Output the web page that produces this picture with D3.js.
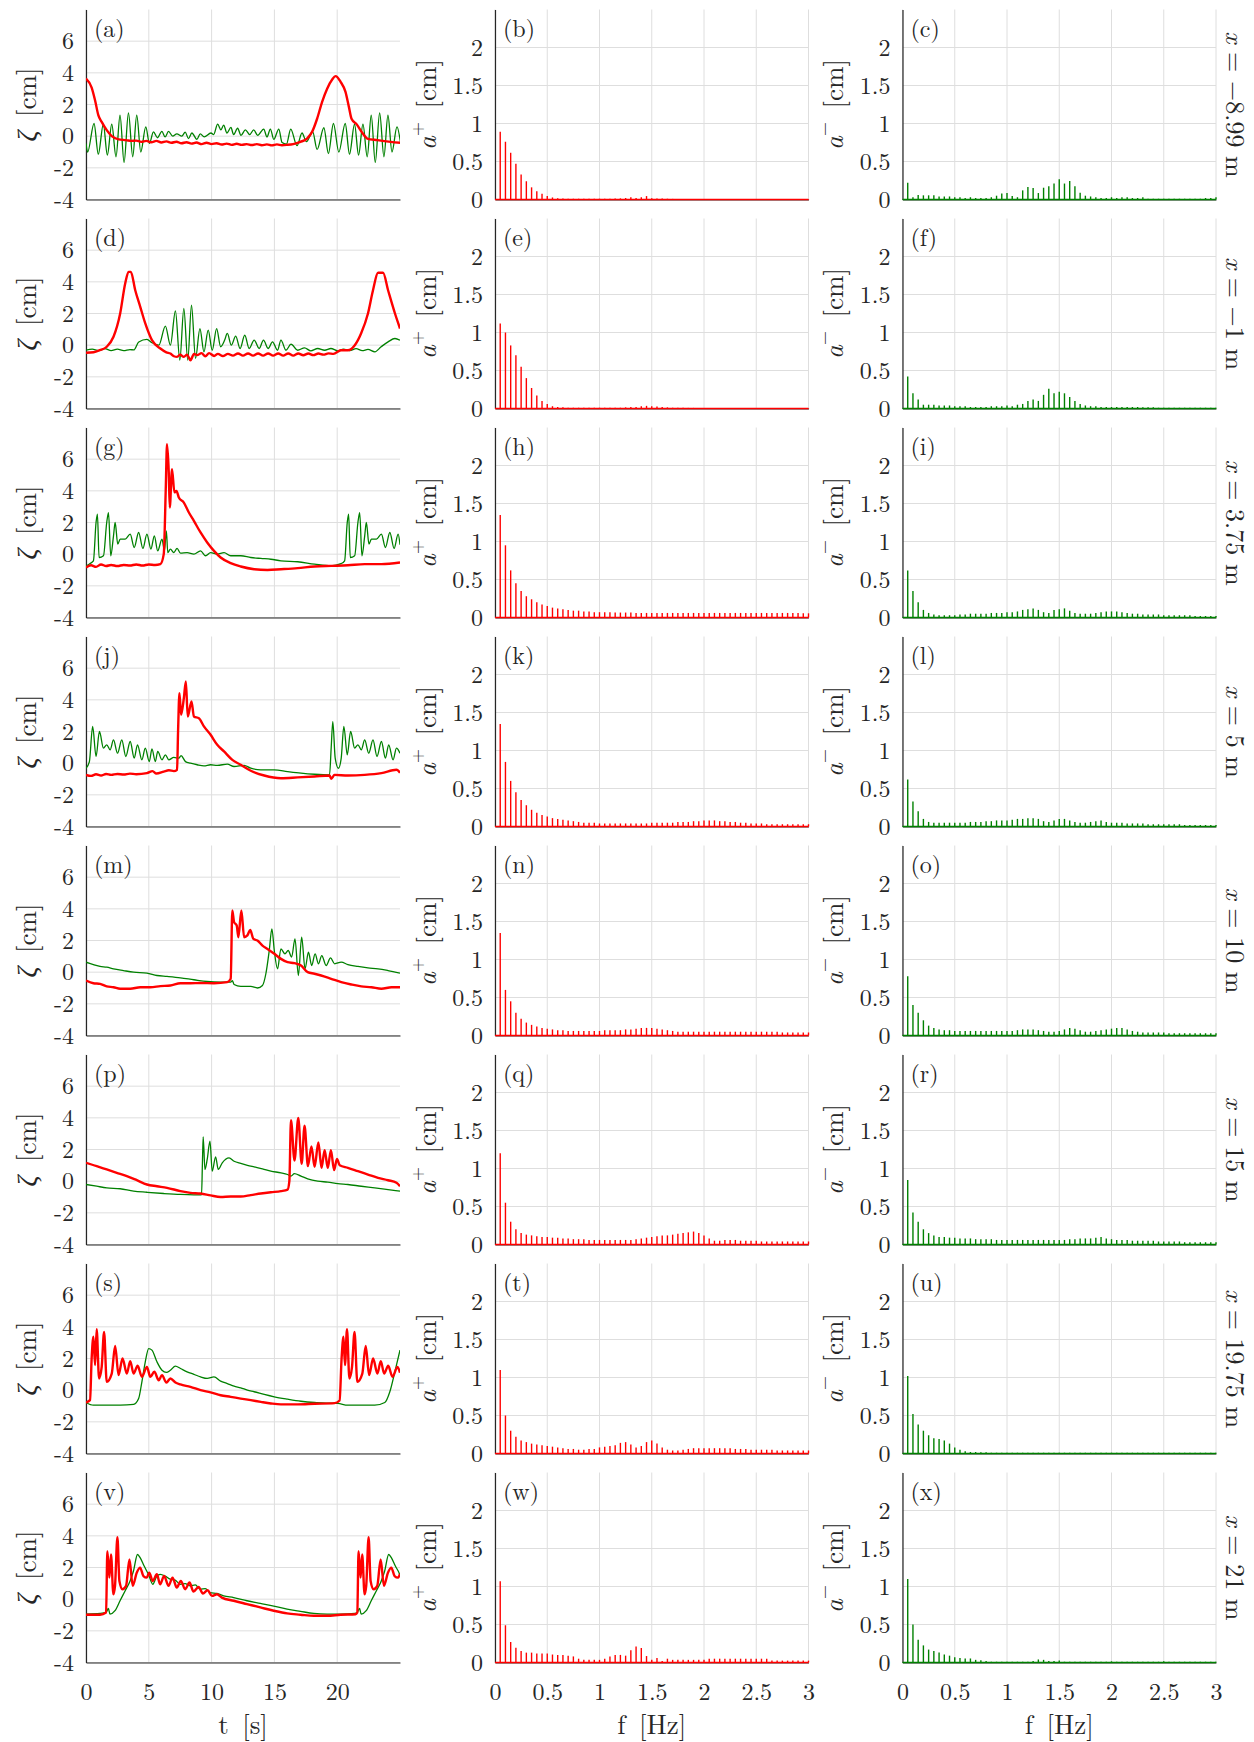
<!DOCTYPE html>
<html><head><meta charset="utf-8">
<script src="https://cdn.jsdelivr.net/npm/d3@7"></script>
<style>body{margin:0;background:#fff} svg text{font-family:'Latin Modern Roman','Liberation Serif',serif;}</style>
</head><body>
<script>
// ---------------- tick labels ----------------
const timeTicks = [0, 5, 10, 15, 20];
const zetaTicks = [-4, -2, 0, 2, 4, 6];
const freqTicks = [0, 0.5, 1, 1.5, 2, 2.5, 3];
const ampTicks = [0, 0.5, 1, 1.5, 2];
const positions = ["\u22128.99", "\u22121", "3.75", "5", "10", "15", "19.75", "21"];

// spectral frequencies [Hz]
const freqs = [0.05,0.1,0.15,0.2,0.25,0.3,0.35,0.4,0.45,0.5,0.55,0.6,0.65,0.7,0.75,0.8,0.85,0.9,0.95,1.0,
 1.05,1.1,1.15,1.2,1.25,1.3,1.35,1.4,1.45,1.5,1.55,1.6,1.65,1.7,1.75,1.8,1.85,1.9,1.95,2.0,
 2.05,2.1,2.15,2.2,2.25,2.3,2.35,2.4,2.45,2.5,2.55,2.6,2.65,2.7,2.75,2.8,2.85,2.9,2.95,3.0];

// ---------------- time series [t, zeta] ----------------
const zpA = [[0,3.64],[0.45,3.07],[0.72,2.27],[0.98,1.33],[1.25,0.9],[1.65,0.38],[2.05,0.0],[2.6,-0.2],[3.2,-0.25],[3.6,-0.3],[4.0,-0.28],[4.4,-0.36],[4.8,-0.3],[5.2,-0.38],[5.6,-0.3],[6.0,-0.4],[6.4,-0.33],[6.8,-0.42],[7.2,-0.35],[7.6,-0.45],[8,-0.38],[8.4,-0.47],[8.8,-0.4],[9.2,-0.5],[9.6,-0.42],[10,-0.5],[10.4,-0.45],[10.8,-0.53],[11.2,-0.47],[11.6,-0.55],[12,-0.48],[12.4,-0.55],[12.8,-0.5],[13.2,-0.56],[13.6,-0.5],[14,-0.57],[14.4,-0.52],[14.8,-0.58],[15.2,-0.52],[15.6,-0.57],[16,-0.55],[16.5,-0.5],[17.07,-0.36],[17.6,-0.15],[18.0,0.27],[18.4,1.1],[18.8,2.17],[19.2,3.0],[19.6,3.58],[19.87,3.79],[20.27,3.43],[20.66,2.8],[20.93,1.85],[21.14,1.1],[21.54,0.76],[22.0,0.21],[22.4,-0.15],[23.2,-0.25],[24.26,-0.36],[25.05,-0.42]];
const zmA = [[0,-0.46],[0.13,-1.0],[0.64,0.8],[0.98,-1.14],[1.38,0.76],[1.7,-1.2],[2.05,0.76],[2.39,-1.3],[2.71,1.33],[3.03,-1.66],[3.38,1.47],[3.72,-1.3],[4.04,1.33],[4.36,-1.0],[4.76,0.59],[5.05,-0.46],[5.37,0.27],[5.69,-0.1],[6.04,0.3],[6.3,-0.05],[6.57,0.3],[6.9,0.0],[7.23,0.15],[7.63,0.0],[7.9,0.25],[8.16,-0.15],[8.43,0.2],[8.83,-0.2],[9.1,0.15],[9.41,-0.05],[9.95,0.2],[10.16,0.1],[10.48,0.76],[10.74,0.4],[10.96,0.7],[11.22,0.2],[11.54,0.55],[11.75,0.1],[12.07,0.5],[12.34,0.05],[12.69,0.4],[13.03,0.1],[13.35,0.4],[13.67,0.05],[14.15,0.45],[14.41,-0.05],[14.68,0.45],[14.95,-0.2],[15.35,0.45],[15.61,-0.4],[15.96,-0.5],[16.3,0.45],[16.8,-0.6],[17.2,0.2],[17.55,-0.35],[18.05,0.27],[18.4,-0.84],[18.94,0.53],[19.3,-1.1],[19.7,0.8],[20.13,-1.0],[20.64,0.8],[20.98,-1.14],[21.38,0.76],[21.7,-1.2],[22.05,0.76],[22.39,-1.3],[22.71,1.33],[23.03,-1.66],[23.38,1.47],[23.72,-1.3],[24.04,1.33],[24.36,-1.0],[24.76,0.59],[25.05,-0.46]];

const zpD = [[0,-0.48],[0.6,-0.45],[1.1,-0.32],[1.65,-0.1],[2.19,0.53],[2.72,2.0],[3.12,3.9],[3.39,4.63],[3.57,4.63],[3.92,3.47],[4.32,2.42],[4.72,1.37],[5.25,0.32],[5.92,-0.21],[6.4,-0.45],[6.72,-0.53],[7.0,-0.7],[7.25,-0.74],[7.5,-0.6],[7.79,-0.74],[8.05,-0.6],[8.32,-0.95],[8.6,-0.55],[8.85,-0.63],[9.2,-0.5],[9.5,-0.7],[9.8,-0.5],[10.2,-0.68],[10.5,-0.55],[10.9,-0.68],[11.3,-0.55],[11.7,-0.66],[12.1,-0.53],[12.5,-0.66],[12.9,-0.53],[13.3,-0.66],[13.7,-0.53],[14.1,-0.66],[14.5,-0.53],[14.9,-0.66],[15.3,-0.53],[15.7,-0.66],[16.1,-0.53],[16.5,-0.66],[16.9,-0.53],[17.3,-0.64],[17.7,-0.53],[18.1,-0.63],[18.5,-0.53],[18.9,-0.6],[19.3,-0.52],[19.7,-0.55],[20.3,-0.32],[20.85,-0.32],[21.4,0],[21.9,0.74],[22.45,2.0],[22.85,3.47],[23.25,4.57],[23.65,4.57],[24.05,3.47],[24.6,2.0],[25,1.05]];
const zmD = [[0,-0.32],[0.5,-0.25],[1.0,-0.35],[1.5,-0.22],[2.0,-0.35],[2.5,-0.25],[3.0,-0.35],[3.5,-0.28],[3.8,-0.3],[4.2,0.2],[4.85,0.36],[5.25,0.15],[5.8,0],[6.32,1.2],[6.72,0],[7.12,2.17],[7.47,-0.95],[7.79,2.32],[8.1,-0.95],[8.4,2.53],[8.72,-0.84],[9.07,1.05],[9.39,-0.42],[9.73,0.95],[10.05,-0.32],[10.4,1.05],[10.72,-0.1],[11.04,0.32],[11.25,0.74],[11.57,0],[11.92,0.57],[12.27,-0.21],[12.64,0.63],[12.99,-0.21],[13.39,0.32],[13.79,-0.21],[14.13,0.32],[14.5,-0.21],[14.85,0.21],[15.25,-0.32],[15.52,0.32],[15.92,-0.32],[16.32,0.06],[16.85,-0.32],[17.4,-0.17],[17.9,-0.36],[18.45,-0.21],[19,-0.32],[19.5,-0.21],[20.05,-0.36],[20.5,-0.25],[21.0,-0.35],[21.5,-0.22],[22,-0.35],[22.45,-0.27],[23,-0.42],[23.5,-0.1],[24.05,0.21],[24.6,0.42],[25,0.32]];

const zpG = [[0,-0.84],[0.4,-0.7],[0.8,-0.8],[1.2,-0.65],[1.6,-0.75],[2.0,-0.68],[2.5,-0.75],[3.0,-0.68],[3.5,-0.72],[4.0,-0.65],[4.5,-0.72],[5.0,-0.65],[5.5,-0.68],[5.92,-0.63],[6.19,0],[6.35,4.1],[6.45,6.95],[6.59,5.16],[6.67,2.95],[6.85,5.37],[7.04,3.9],[7.2,4.0],[7.39,3.58],[7.79,3.26],[8.19,2.63],[8.59,2.1],[9.12,1.37],[9.65,0.74],[10.19,0.21],[10.72,-0.21],[11.52,-0.57],[12.32,-0.78],[13.39,-0.95],[14.45,-1.0],[15.52,-0.95],[16.85,-0.88],[18.19,-0.78],[19.52,-0.74],[20.85,-0.7],[22.19,-0.63],[23.52,-0.63],[25,-0.53]];
const zmG = [[0,-0.74],[0.3,-0.6],[0.59,-0.42],[0.8,2.0],[0.91,2.53],[1.04,-0.21],[1.39,-0.1],[1.65,2.0],[1.79,2.63],[1.97,-0.1],[2.19,1.16],[2.32,2.0],[2.53,0.63],[2.72,0.95],[3.12,0.95],[3.52,1.26],[3.84,0.42],[4.19,1.37],[4.53,0.36],[4.85,1.26],[5.17,0.32],[5.44,1.16],[5.71,0.21],[6.05,0.95],[6.24,0.21],[6.4,1.47],[6.51,0.1],[6.72,0.32],[6.99,0.1],[7.25,0.36],[7.52,0.06],[8.05,0.1],[8.59,0],[9.12,0.21],[9.52,-0.1],[9.92,0.1],[10.45,0],[10.99,0.1],[11.52,-0.1],[12.32,-0.1],[13.12,-0.21],[13.92,-0.27],[14.72,-0.32],[15.52,-0.42],[16.85,-0.48],[18.19,-0.63],[19.52,-0.74],[20.3,-0.6],[20.59,-0.42],[20.8,2.0],[20.91,2.53],[21.04,-0.21],[21.39,-0.1],[21.65,2.0],[21.79,2.63],[21.97,-0.1],[22.19,1.16],[22.32,2.0],[22.53,0.63],[22.72,0.95],[23.12,0.95],[23.52,1.26],[23.84,0.42],[24.19,1.37],[24.53,0.36],[24.85,1.26],[25,0.6]];

const zpJ = [[0,-0.74],[0.4,-0.8],[0.8,-0.7],[1.2,-0.78],[1.6,-0.68],[2.0,-0.74],[2.5,-0.68],[3.0,-0.72],[3.5,-0.66],[4.0,-0.7],[4.85,-0.63],[5.3,-0.5],[5.6,-0.65],[6.19,-0.53],[6.6,-0.45],[7.0,-0.5],[7.25,-0.42],[7.33,2.0],[7.44,4.42],[7.57,3.05],[7.79,4.1],[7.95,5.16],[8.1,2.95],[8.4,3.9],[8.59,2.95],[8.99,2.84],[9.39,2.32],[9.92,1.79],[10.45,1.16],[10.99,0.74],[11.65,0.21],[12.32,-0.1],[13.12,-0.48],[14.19,-0.78],[15.52,-0.95],[16.85,-0.9],[18.19,-0.84],[19.39,-0.78],[19.52,-0.98],[19.79,-0.74],[20.85,-0.78],[22.19,-0.74],[23.52,-0.63],[24.72,-0.42],[25,-0.6]];
const zmJ = [[0,-0.32],[0.27,0.1],[0.53,2.32],[0.8,0.42],[1.07,2.0],[1.39,0.95],[1.65,1.16],[1.92,0.84],[2.19,1.47],[2.51,0.63],[2.85,1.47],[3.17,0.42],[3.52,1.37],[3.84,0.32],[4.1,1.16],[4.45,0.21],[4.72,0.95],[5.04,0.1],[5.25,0.9],[5.52,0.1],[5.71,0.74],[6.05,0.21],[6.32,0.53],[6.59,0.21],[6.99,0.36],[7.39,0.32],[7.57,0.48],[7.92,0.1],[8.32,0],[8.85,-0.1],[9.39,-0.17],[9.92,-0.1],[10.45,-0.14],[11.25,-0.06],[11.79,-0.21],[12.59,-0.14],[13.12,-0.32],[13.92,-0.42],[14.99,-0.42],[16.05,-0.53],[17.12,-0.63],[18.19,-0.7],[19.39,-0.74],[19.52,0.95],[19.65,2.63],[19.84,0.32],[20.1,-0.32],[20.32,0.32],[20.53,2.32],[20.8,0.53],[21.07,2.0],[21.39,0.95],[21.65,1.16],[21.92,0.84],[22.19,1.47],[22.51,0.63],[22.85,1.47],[23.17,0.42],[23.52,1.37],[23.84,0.32],[24.1,1.16],[24.45,0.21],[24.72,0.95],[25,0.63]];

const zpM = [[0,-0.53],[0.59,-0.7],[1.12,-0.74],[1.65,-0.9],[2.19,-0.95],[2.72,-1.05],[3.52,-1.05],[4.32,-0.95],[5.12,-0.95],[5.92,-0.88],[6.72,-0.84],[7.52,-0.7],[8.32,-0.7],[9.12,-0.68],[10.19,-0.7],[11.25,-0.63],[11.52,-0.42],[11.65,3.9],[11.79,3.16],[12.0,2.95],[12.13,2.21],[12.37,3.9],[12.59,2.21],[12.85,2.32],[13.07,2.67],[13.33,2.1],[13.65,2.0],[14.05,1.68],[14.45,1.47],[14.99,1.16],[15.52,0.84],[16.05,0.63],[16.59,0.57],[17.12,0.42],[17.65,0],[18.19,-0.1],[18.72,-0.21],[19.52,-0.42],[20.32,-0.63],[21.12,-0.78],[21.92,-0.9],[22.72,-0.95],[23.52,-1.05],[24.32,-0.95],[25,-0.95]];
const zmM = [[0,0.63],[0.59,0.48],[1.12,0.36],[1.65,0.32],[2.19,0.21],[2.99,0.1],[3.79,0],[4.85,-0.06],[5.65,-0.21],[6.45,-0.27],[7.52,-0.36],[8.59,-0.48],[9.65,-0.59],[10.72,-0.63],[11.52,-0.63],[11.65,-0.53],[11.79,-0.78],[12.32,-0.9],[13.12,-0.9],[13.65,-1.0],[14.05,-0.84],[14.32,-0.1],[14.59,1.37],[14.8,2.74],[14.99,1.37],[15.25,0.21],[15.52,1.47],[15.84,1.16],[16.1,1.37],[16.37,0.95],[16.64,2.1],[16.91,-0.21],[17.17,2.21],[17.44,0.21],[17.71,1.26],[17.97,0.42],[18.24,1.16],[18.51,0.53],[18.77,1.05],[19.12,0.42],[19.47,0.9],[19.79,0.53],[20.32,0.63],[20.85,0.48],[21.65,0.36],[22.45,0.27],[23.25,0.21],[24.05,0.1],[25,-0.06]];

const zpP = [[0,1.16],[0.85,0.95],[1.65,0.74],[2.45,0.53],[3.25,0.32],[4.05,0.06],[4.85,-0.21],[5.65,-0.32],[6.45,-0.42],[7.52,-0.63],[8.32,-0.74],[9.12,-0.78],[9.92,-0.9],[10.72,-1.0],[11.52,-0.97],[12.32,-0.97],[13.12,-0.88],[13.92,-0.78],[14.72,-0.7],[15.52,-0.63],[16.05,-0.53],[16.19,0],[16.32,3.85],[16.6,1.3],[16.9,4.0],[17.17,1.1],[17.4,3.5],[17.67,0.95],[17.95,2.2],[18.2,0.9],[18.5,2.45],[18.75,0.85],[19.0,1.95],[19.25,0.85],[19.5,1.95],[19.75,0.7],[19.98,1.4],[20.2,1.0],[20.85,0.84],[21.65,0.63],[22.45,0.42],[23.25,0.21],[24.05,0.06],[24.72,-0.1],[25,-0.32]];
const zmP = [[0,-0.21],[0.85,-0.32],[1.65,-0.42],[2.72,-0.48],[3.79,-0.63],[4.85,-0.7],[6.19,-0.78],[7.52,-0.84],[8.59,-0.86],[9.2,-0.86],[9.27,1.16],[9.33,2.8],[9.47,0.74],[9.65,1.37],[9.87,2.53],[10.05,0.63],[10.32,1.54],[10.53,0.74],[10.85,1.16],[11.39,1.47],[11.79,1.26],[12.32,1.12],[12.85,1.0],[13.39,0.9],[14.05,0.78],[14.72,0.63],[15.52,0.53],[16.05,0.42],[16.32,0.32],[16.59,0.48],[17.12,0.32],[17.65,0.15],[18.45,0],[19.25,-0.06],[20.05,-0.15],[20.85,-0.21],[21.92,-0.32],[22.99,-0.42],[24.05,-0.53],[25,-0.63]];

const zpS = [[0,-0.78],[0.32,-0.63],[0.45,2.0],[0.59,3.37],[0.72,1.58],[0.85,3.85],[1.04,0.74],[1.25,1.47],[1.44,3.68],[1.65,0.53],[2.05,1.05],[2.32,2.8],[2.59,0.95],[2.91,2.0],[3.25,1.05],[3.52,1.83],[3.79,1.05],[4.11,1.54],[4.45,0.84],[4.85,1.47],[5.12,0.84],[5.44,1.16],[5.79,0.63],[6.05,0.95],[6.4,0.48],[6.72,0.74],[7.12,0.48],[7.52,0.36],[8.32,0.21],[9.12,0],[9.92,-0.14],[10.72,-0.32],[11.52,-0.42],[12.32,-0.53],[13.12,-0.63],[13.92,-0.74],[14.72,-0.84],[15.52,-0.9],[16.85,-0.9],[18.19,-0.86],[19.79,-0.82],[20.19,-0.65],[20.35,2.0],[20.5,3.37],[20.62,1.58],[20.78,3.85],[20.97,0.74],[21.18,1.47],[21.38,3.68],[21.6,0.53],[22.0,1.05],[22.27,2.8],[22.54,0.95],[22.86,2.0],[23.2,1.05],[23.47,1.83],[23.74,1.05],[24.06,1.54],[24.4,0.84],[24.8,1.47],[25,1.1]];
const zmS = [[0,-0.78],[0.59,-0.95],[1.65,-0.95],[2.72,-0.95],[3.79,-0.9],[4.19,-0.53],[4.45,0.53],[4.72,1.79],[4.99,2.63],[5.25,2.53],[5.65,1.79],[6.05,1.26],[6.4,1.12],[6.72,1.26],[7.12,1.52],[7.52,1.37],[8.05,1.16],[8.59,1.0],[9.12,0.84],[9.65,0.74],[10.19,0.84],[10.72,0.57],[11.25,0.42],[11.79,0.25],[12.32,0.15],[12.85,0],[13.39,-0.1],[14.19,-0.27],[14.99,-0.42],[16.05,-0.57],[17.12,-0.7],[18.19,-0.78],[19.25,-0.82],[20.05,-0.84],[20.85,-0.95],[21.92,-0.95],[22.99,-0.95],[23.79,-0.78],[24.19,-0.1],[24.59,1.16],[25,2.53]];

const zpV = [[0,-0.98],[1.12,-0.98],[1.6,-0.84],[1.7,3.03],[1.86,1.36],[1.99,2.82],[2.18,0.31],[2.31,0.84],[2.5,3.91],[2.66,1.15],[2.9,0.63],[3.19,0.84],[3.46,2.51],[3.72,0.84],[4.04,1.67],[4.31,1.99],[4.57,1.46],[4.84,1.36],[5.03,1.67],[5.32,1.15],[5.64,1.57],[5.9,0.94],[6.22,1.46],[6.57,0.84],[6.89,1.36],[7.23,0.73],[7.55,1.15],[7.9,0.63],[8.24,1.05],[8.56,0.48],[8.96,0.77],[9.31,0.36],[9.68,0.56],[10.03,0.21],[10.43,0.31],[10.82,0.1],[11.76,-0.1],[12.82,-0.31],[13.88,-0.52],[14.95,-0.73],[16.01,-0.9],[17.07,-0.98],[18.14,-1.05],[19.2,-1.05],[20.27,-0.98],[21.46,-0.95],[21.6,-0.84],[21.7,3.03],[21.86,1.36],[21.99,2.82],[22.18,0.31],[22.31,0.84],[22.5,3.91],[22.66,1.15],[22.9,0.63],[23.19,0.84],[23.46,2.51],[23.72,0.84],[24.04,1.67],[24.31,1.99],[24.57,1.46],[24.84,1.36],[25,1.6]];
const zmV = [[0,-0.94],[1.12,-0.9],[1.6,-0.84],[1.78,-0.59],[1.91,-0.94],[2.31,-0.73],[2.71,-0.1],[3.11,0.52],[3.51,1.15],[3.78,1.78],[4.1,2.82],[4.31,2.62],[4.63,2.09],[4.97,1.57],[5.32,0.94],[5.64,1.46],[5.9,1.57],[6.3,1.46],[6.7,1.26],[7.1,1.2],[7.5,0.94],[7.9,0.98],[8.3,0.84],[8.7,0.9],[9.1,0.63],[9.5,0.67],[9.89,0.42],[10.43,0.36],[10.96,0.21],[11.76,0.1],[12.82,-0.1],[13.88,-0.27],[14.95,-0.44],[16.01,-0.63],[17.07,-0.77],[18.14,-0.9],[19.2,-0.94],[20.27,-0.94],[21.4,-0.9],[21.6,-0.84],[21.78,-0.59],[21.91,-0.94],[22.31,-0.73],[22.71,-0.1],[23.11,0.52],[23.51,1.15],[23.78,1.78],[24.1,2.82],[24.31,2.62],[24.63,2.09],[24.97,1.57],[25,1.5]];

// ---------------- spectra (amplitude at each freq) ----------------
const apB = [0.89,0.76,0.615,0.47,0.33,0.24,0.16,0.11,0.075,0.045, 0.027,0.018,0.012,0.01,0.01,0.01,0.01,0.01,0.01,0.01, 0.01,0.01,0.012,0.015,0.02,0.03,0.02,0.03,0.045,0.015, 0.012,0.012,0.01,0.008,0.006,0.005,0.005,0.005,0.005,0.005, 0.005,0.005,0.005,0.005,0.005,0.005,0.005,0.005,0.005,0.005, 0.005,0.005,0.005,0.005,0.005,0.005,0.005,0.005,0.005,0.005];
const amC = [0.22,0.03,0.06,0.055,0.055,0.055,0.04,0.04,0.04,0.03, 0.03,0.02,0.03,0.02,0.02,0.02,0.03,0.05,0.08,0.085, 0.045,0.03,0.12,0.165,0.15,0.085,0.155,0.175,0.21,0.265, 0.21,0.245,0.175,0.09,0.05,0.04,0.03,0.02,0.02,0.03, 0.02,0.03,0.03,0.02,0.02,0.03,0.01,0.01,0.01,0.01, 0.01,0.01,0.01,0.01,0.01,0.01,0.01,0.02,0.02,0.03];
const apE = [1.12,1.0,0.83,0.7,0.55,0.4,0.27,0.17,0.1,0.06, 0.03,0.02,0.015,0.01,0.01,0.01,0.01,0.01,0.01,0.01, 0.01,0.01,0.01,0.01,0.015,0.02,0.02,0.03,0.035,0.03, 0.025,0.02,0.015,0.01,0.01,0.01,0.008,0.008,0.008,0.008, 0.005,0.005,0.005,0.005,0.005,0.005,0.005,0.005,0.005,0.005, 0.005,0.005,0.005,0.005,0.005,0.005,0.005,0.005,0.005,0.005];
const amF = [0.42,0.2,0.12,0.05,0.05,0.05,0.04,0.04,0.04,0.03, 0.03,0.03,0.02,0.02,0.02,0.02,0.03,0.03,0.03,0.04, 0.03,0.05,0.06,0.1,0.12,0.1,0.18,0.26,0.2,0.22, 0.2,0.15,0.1,0.06,0.04,0.03,0.03,0.02,0.02,0.02, 0.02,0.02,0.02,0.02,0.02,0.015,0.015,0.015,0.01,0.01, 0.01,0.01,0.01,0.01,0.01,0.01,0.01,0.01,0.01,0.01];
const apH = [1.35,0.95,0.62,0.45,0.35,0.28,0.24,0.2,0.17,0.15, 0.13,0.12,0.11,0.1,0.09,0.09,0.08,0.08,0.07,0.07, 0.07,0.07,0.065,0.065,0.065,0.065,0.06,0.06,0.06,0.06, 0.06,0.06,0.06,0.06,0.06,0.06,0.06,0.06,0.06,0.06, 0.06,0.06,0.06,0.06,0.06,0.06,0.06,0.06,0.06,0.06, 0.06,0.06,0.06,0.06,0.06,0.06,0.06,0.06,0.055,0.055];
const amI = [0.62,0.35,0.2,0.1,0.06,0.04,0.03,0.03,0.03,0.03, 0.04,0.04,0.05,0.05,0.05,0.05,0.06,0.06,0.06,0.07, 0.07,0.08,0.1,0.11,0.12,0.1,0.07,0.06,0.1,0.11, 0.12,0.09,0.06,0.05,0.05,0.05,0.06,0.07,0.08,0.08, 0.08,0.07,0.06,0.05,0.05,0.04,0.04,0.04,0.04,0.03, 0.03,0.03,0.03,0.03,0.03,0.02,0.02,0.02,0.02,0.02];
const apK = [1.35,0.85,0.6,0.45,0.35,0.28,0.22,0.18,0.15,0.13, 0.11,0.1,0.09,0.08,0.07,0.06,0.05,0.05,0.05,0.04, 0.04,0.04,0.04,0.04,0.04,0.04,0.04,0.04,0.04,0.05, 0.05,0.05,0.05,0.05,0.06,0.06,0.06,0.07,0.07,0.08, 0.08,0.08,0.07,0.07,0.06,0.06,0.05,0.05,0.04,0.04, 0.04,0.03,0.03,0.03,0.03,0.03,0.03,0.03,0.03,0.03];
const amL = [0.62,0.33,0.2,0.1,0.06,0.05,0.05,0.05,0.05,0.05, 0.05,0.05,0.06,0.06,0.06,0.07,0.07,0.08,0.08,0.08, 0.09,0.1,0.1,0.11,0.11,0.1,0.07,0.06,0.08,0.1, 0.1,0.08,0.06,0.05,0.05,0.06,0.07,0.08,0.06,0.05, 0.05,0.05,0.04,0.04,0.04,0.04,0.03,0.03,0.03,0.03, 0.03,0.03,0.03,0.02,0.02,0.02,0.02,0.02,0.02,0.02];
const apN = [1.35,0.6,0.45,0.3,0.22,0.17,0.14,0.12,0.1,0.09, 0.08,0.07,0.07,0.06,0.06,0.06,0.06,0.06,0.06,0.06, 0.07,0.07,0.07,0.07,0.08,0.08,0.09,0.1,0.1,0.1, 0.09,0.08,0.07,0.06,0.05,0.05,0.05,0.05,0.05,0.05, 0.05,0.05,0.05,0.05,0.05,0.05,0.05,0.05,0.05,0.05, 0.05,0.05,0.05,0.05,0.04,0.04,0.04,0.04,0.04,0.04];
const amO = [0.78,0.4,0.3,0.2,0.13,0.1,0.08,0.07,0.07,0.06, 0.06,0.06,0.06,0.06,0.06,0.06,0.06,0.06,0.06,0.06, 0.06,0.07,0.08,0.08,0.08,0.07,0.06,0.05,0.05,0.06, 0.08,0.1,0.09,0.07,0.05,0.05,0.06,0.07,0.08,0.09, 0.1,0.1,0.08,0.06,0.05,0.04,0.04,0.04,0.04,0.04, 0.03,0.03,0.03,0.03,0.03,0.03,0.03,0.03,0.03,0.03];
const apQ = [1.2,0.55,0.3,0.2,0.15,0.13,0.12,0.11,0.1,0.1, 0.09,0.09,0.08,0.08,0.07,0.07,0.07,0.06,0.06,0.06, 0.06,0.06,0.06,0.06,0.06,0.06,0.07,0.08,0.09,0.1, 0.11,0.12,0.12,0.13,0.14,0.15,0.16,0.17,0.15,0.12, 0.08,0.05,0.05,0.06,0.06,0.06,0.05,0.05,0.05,0.05, 0.04,0.04,0.04,0.04,0.04,0.04,0.04,0.04,0.04,0.04];
const amR = [0.85,0.42,0.3,0.2,0.15,0.12,0.1,0.1,0.09,0.09, 0.08,0.08,0.08,0.07,0.07,0.07,0.07,0.06,0.06,0.06, 0.06,0.06,0.06,0.06,0.06,0.06,0.06,0.06,0.06,0.06, 0.06,0.07,0.07,0.08,0.08,0.08,0.09,0.1,0.08,0.07, 0.06,0.06,0.06,0.05,0.05,0.05,0.05,0.05,0.04,0.04, 0.04,0.04,0.04,0.03,0.03,0.03,0.03,0.03,0.03,0.03];
const apT = [1.1,0.5,0.3,0.22,0.17,0.15,0.13,0.12,0.11,0.1, 0.09,0.08,0.07,0.06,0.06,0.05,0.05,0.06,0.06,0.08, 0.09,0.1,0.11,0.14,0.15,0.12,0.08,0.1,0.15,0.17, 0.13,0.08,0.05,0.04,0.04,0.05,0.06,0.07,0.07,0.07, 0.07,0.07,0.07,0.07,0.07,0.06,0.06,0.06,0.05,0.05, 0.05,0.05,0.05,0.04,0.04,0.04,0.04,0.04,0.04,0.04];
const amU = [1.02,0.52,0.38,0.3,0.24,0.2,0.19,0.17,0.13,0.08, 0.05,0.03,0.02,0.02,0.015,0.015,0.01,0.01,0.01,0.01, 0.01,0.01,0.01,0.01,0.01,0.01,0.01,0.01,0.01,0.01, 0.01,0.01,0.01,0.01,0.01,0.01,0.01,0.01,0.01,0.01, 0.01,0.01,0.01,0.01,0.01,0.01,0.01,0.01,0.01,0.01, 0.01,0.01,0.01,0.01,0.01,0.01,0.01,0.01,0.01,0.01];
const apW = [1.07,0.49,0.27,0.195,0.15,0.13,0.13,0.12,0.12,0.12, 0.105,0.1,0.1,0.09,0.08,0.05,0.035,0.035,0.035,0.035, 0.05,0.08,0.1,0.1,0.09,0.16,0.21,0.19,0.085,0.035, 0.06,0.02,0.05,0.035,0.035,0.035,0.035,0.035,0.035,0.035, 0.05,0.05,0.05,0.05,0.05,0.05,0.05,0.05,0.05,0.05, 0.05,0.05,0.025,0.025,0.025,0.025,0.025,0.025,0.025,0.025];
const amX = [1.1,0.5,0.3,0.225,0.17,0.15,0.13,0.105,0.09,0.07, 0.06,0.053,0.053,0.035,0.03,0.02,0.01,0.01,0.01,0.01, 0.01,0.01,0.01,0.01,0.02,0.04,0.035,0.02,0.02,0.025, 0.01,0.01,0.01,0.01,0.01,0.01,0.01,0.01,0.01,0.015, 0.01,0.01,0.01,0.01,0.01,0.01,0.01,0.01,0.01,0.015, 0.01,0.01,0.01,0.01,0.01,0.01,0.01,0.01,0.01,0.01];

const rowsCfg = [
  {zp: zpA, zm: zmA, ap: apB, am: amC},
  {zp: zpD, zm: zmD, ap: apE, am: amF},
  {zp: zpG, zm: zmG, ap: apH, am: amI},
  {zp: zpJ, zm: zmJ, ap: apK, am: amL},
  {zp: zpM, zm: zmM, ap: apN, am: amO},
  {zp: zpP, zm: zmP, ap: apQ, am: amR},
  {zp: zpS, zm: zmS, ap: apT, am: amU},
  {zp: zpV, zm: zmV, ap: apW, am: amX}
];

// ---------------- drawing ----------------
const FONT = "Latin Modern Roman";
const RED = '#ff0000', GREEN = '#008000', AX = '#262626', GRID = '#dedede', TXT = '#262626';
const colX = [86, 495, 902.5], colW = [314, 313.5, 313.5];
const PH = 190;
const rowTop = i => 9.5 + 209 * i;

const svg = d3.select('body').append('svg')
  .attr('width', 1254).attr('height', 1742)
  .style('background', '#fff');

rowsCfg.forEach((row, r) => {
  const top = rowTop(r);
  for (let c = 0; c < 3; c++) {
    const letter = String.fromCharCode(97 + 3 * r + c);
    const g = svg.append('g').attr('transform', `translate(${colX[c]},${top})`);
    const W = colW[c];
    const x = c === 0 ? d3.scaleLinear([0, 25], [0, W]) : d3.scaleLinear([0, 3], [0, W]);
    const y = c === 0 ? d3.scaleLinear([-4, 8], [PH, 0]) : d3.scaleLinear([0, 2.5], [PH, 0]);
    const xt = c === 0 ? timeTicks : freqTicks;
    const yt = c === 0 ? zetaTicks : ampTicks;

    // grid
    g.append('g').selectAll('line').data(xt).join('line')
      .attr('x1', d => x(d)).attr('x2', d => x(d)).attr('y1', 0).attr('y2', PH)
      .attr('stroke', GRID).attr('stroke-width', 1);
    g.append('g').selectAll('line').data(yt).join('line')
      .attr('x1', 0).attr('x2', W).attr('y1', d => y(d)).attr('y2', d => y(d))
      .attr('stroke', GRID).attr('stroke-width', 1);

    const clipId = `clip-${r}-${c}`;
    g.append('clipPath').attr('id', clipId).append('rect')
      .attr('x', 0).attr('y', 0).attr('width', W).attr('height', PH);

    // axes
    const ya = d3.axisLeft(y).tickValues(yt).tickSize(0).tickSizeOuter(0)
      .tickPadding(12).tickFormat(d => String(d));
    const yg = g.append('g').call(ya);
    const xa = d3.axisBottom(x).tickValues(xt).tickSize(0).tickSizeOuter(0)
      .tickPadding(20).tickFormat(r === 7 ? (d => String(d)) : (() => ''));
    const xg = g.append('g').attr('transform', `translate(0,${PH})`).call(xa);
    [yg, xg].forEach(a => {
      a.attr('font-family', FONT).attr('font-size', 24);
      a.select('.domain').attr('stroke', AX).attr('stroke-width', 1.2);
      a.selectAll('text').attr('fill', TXT);
    });

    const plot = g.append('g').attr('clip-path', `url(#${clipId})`);
    if (c === 0) {
      const line = d3.line().x(d => x(d[0])).y(d => y(d[1])).curve(d3.curveMonotoneX);
      plot.append('path').datum(row.zm).attr('d', line)
        .attr('fill', 'none').attr('stroke', GREEN).attr('stroke-width', 1.3);
      plot.append('path').datum(row.zp).attr('d', line)
        .attr('fill', 'none').attr('stroke', RED).attr('stroke-width', 2.4)
        .attr('stroke-linejoin', 'round');
    } else {
      const vals = c === 1 ? row.ap : row.am;
      const col = c === 1 ? RED : GREEN;
      const data = vals.map((v, i) => ({f: freqs[i], v}));
      g.append('g').selectAll('line').data(data).join('line')
        .attr('x1', d => x(d.f)).attr('x2', d => x(d.f))
        .attr('y1', y(0)).attr('y2', d => y(d.v))
        .attr('stroke', col).attr('stroke-width', 1.4);
      g.append('line').attr('x1', x(0)).attr('x2', x(3)).attr('y1', y(0)).attr('y2', y(0))
        .attr('stroke', col).attr('stroke-width', 1.4);
    }

    // panel label
    g.append('text').attr('x', 8).attr('y', 27)
      .attr('font-family', FONT).attr('font-size', 24).attr('fill', TXT)
      .text(`(${letter})`);

    // y label
    const lx = [25, 425, 832][c] - colX[c];
    const yl = g.append('text')
      .attr('transform', `translate(${lx},${PH / 2}) rotate(-90)`)
      .attr('text-anchor', 'middle').attr('dominant-baseline', 'central')
      .attr('font-family', FONT).attr('font-size', 27).attr('fill', TXT);
    if (c === 0) {
      yl.append('tspan').attr('font-style', 'italic').text('\u03B6');
      yl.append('tspan').text('\u2002[cm]');
    } else {
      yl.append('tspan').attr('font-style', 'italic').text('a');
      yl.append('tspan').attr('font-size', 18).attr('dy', -10).text(c === 1 ? '+' : '\u2212');
      yl.append('tspan').attr('dy', 10).text('\u2002[cm]');
    }
  }
  // right position label
  const rl = svg.append('text')
    .attr('transform', `translate(1237,${top + PH / 2}) rotate(90)`)
    .attr('text-anchor', 'middle').attr('dominant-baseline', 'central')
    .attr('font-family', FONT).attr('font-size', 26).attr('fill', TXT);
  rl.append('tspan').attr('font-style', 'italic').text('x');
  rl.append('tspan').text(` = ${positions[r]} m`);
});

// x axis titles
const xTitleY = 1734;
[['t', '\u2002[s]', 0], ['f', '\u2002[Hz]', 1], ['f', '\u2002[Hz]', 2]].forEach(([a, b, c]) => {
  const t = svg.append('text').attr('x', colX[c] + colW[c] / 2).attr('y', xTitleY)
    .attr('text-anchor', 'middle').attr('font-family', FONT).attr('font-size', 27)
    .attr('fill', TXT);
  t.append('tspan').text(a);
  t.append('tspan').text(b);
});
</script>
</body></html>
